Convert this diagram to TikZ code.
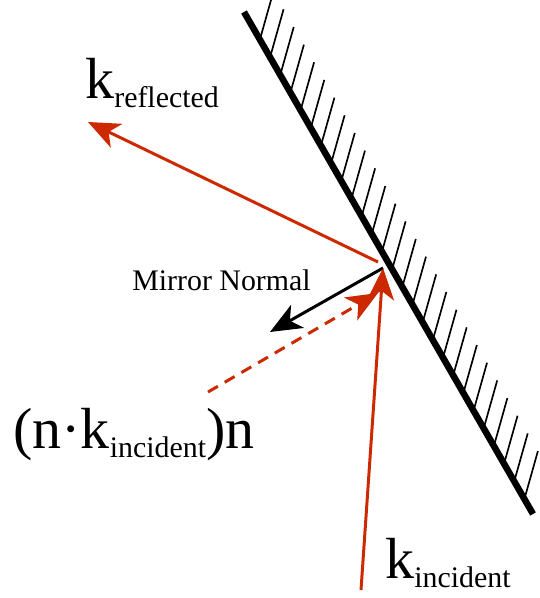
\documentclass[tikz,border=0pt]{standalone}
\usepackage{fontspec}
\setmainfont{Liberation Serif}
\usetikzlibrary{arrows.meta,calc,positioning}
\definecolor{rayred}{RGB}{204,41,0}
\newcommand{\bigk}[1]{\fontsize{33}{36}\selectfont #1}
\newcommand{\lowsub}[1]{\raisebox{-5.5pt}{\fontsize{17}{20}\selectfont #1}}
\tikzset{
  >={Stealth[length=18pt,width=15pt,inset=5pt]},
}

\begin{document}
\begin{tikzpicture}[
  x=0.02cm,y=-0.02cm,
  mirrorline/.style={line width=3.7pt},
  hatchline/.style={line width=0.95pt},
  ray/.style={->,draw=rayred,line width=1.7pt},
  normalarrow/.style={->,line width=1.7pt},
  label/.style={inner sep=0pt,anchor=base west}
]
\clip (0,0) rectangle (540,598);

% mirror and its hatching
\coordinate (m1) at (244,12);
\coordinate (m2) at (533,514);
\foreach \t in {0,...,26}
  \draw[hatchline] ($(m1)!{0.055+\t*0.0352}!(m2)$) -- ++(13.5,-48);
\draw[mirrorline] (m1) -- (m2);

% rays
\coordinate (hit) at (383,268);
\coordinate (reflstart) at (378,262);
\coordinate (inc) at (361,590);
\coordinate (refl) at (88,122);
\coordinate (proj) at (208,392);
\coordinate (projtip) at (378,293);
\coordinate (normaltip) at (270,332);

\draw[ray] (reflstart) -- (refl);
\draw[normalarrow] (hit) -- (normaltip);
\draw[ray,dash pattern=on 6.5pt off 4.5pt] (proj) -- (projtip);
\draw[ray] (inc) -- (hit);

% labels
\node[label] (kref) at (85,98) {\bigk{k}\lowsub{reflected}};
\node[label] (mirrornormal) at (132,290) {\fontsize{17}{20}\selectfont Mirror Normal};
\node[label] (projlabel) at (13,448) {\bigk{(n·k}\lowsub{incident}\bigk{)n}};
\node[label] (kinc) at (385,578) {\bigk{k}\lowsub{incident}};
\end{tikzpicture}
\end{document}
